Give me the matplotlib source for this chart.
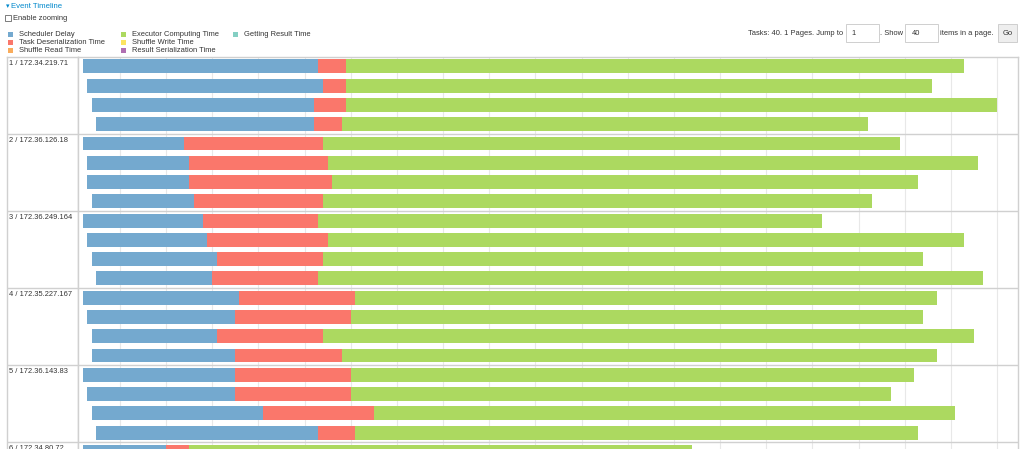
#! usr/bin/env python

'''Event timeline of Spark tasks, one lane group per executor host'''

import matplotlib
matplotlib.use("Agg")
import matplotlib.pyplot as plt
from matplotlib.patches import Rectangle

plt.rcParams['font.family'] = ['Liberation Sans', 'DejaVu Sans']

# executor hosts (one group of lanes each)
hosts = ["1 / 172.34.219.71", "2 / 172.36.126.18", "3 / 172.36.249.164",
         "4 / 172.35.227.167", "5 / 172.36.143.83", "6 / 172.34.80.72"]
# which host each task ran on and its lane inside the group
task_host = [0, 0, 0, 0, 1, 1, 1, 1, 2, 2, 2, 2, 3, 3, 3, 3, 4, 4, 4, 4, 5]
task_lane = [0, 1, 2, 3, 0, 1, 2, 3, 0, 1, 2, 3, 0, 1, 2, 3, 0, 1, 2, 3, 0]
# times in ms
launch_ms = [19, 29, 39, 49, 19, 29, 29, 39, 19, 29, 39, 49, 19, 29, 39, 39, 19, 29, 39, 49, 19]
sched_delay_ms = [511, 510, 481, 471, 220, 221, 221, 221, 260, 260, 271, 250,
                  339, 320, 271, 310, 330, 320, 371, 481, 180]
deser_ms = [60, 51, 70, 60, 301, 300, 309, 280, 251, 261, 230, 231,
            252, 251, 230, 231, 251, 251, 240, 80, 51]
compute_ms = [1339, 1270, 1409, 1140, 1249, 1409, 1270, 1190, 1090, 1379, 1299, 1439,
              1259, 1239, 1409, 1289, 1220, 1170, 1260, 1219, 1089]

legend_items = [("Scheduler Delay", "#74a9cf"), ("Task Deserialization Time", "#fa776b"),
                ("Shuffle Read Time", "#f9ac5c"), ("Executor Computing Time", "#acd960"),
                ("Shuffle Write Time", "#fbe460"), ("Result Serialization Time", "#b06fb2"),
                ("Getting Result Time", "#84cfc3")]

W, H = 1024, 449
fig = plt.figure(figsize=(W / 100, H / 100), dpi=100)

def px_axes(x0, y0, x1, y1):
    return fig.add_axes([x0 / W, 1 - y1 / H, (x1 - x0) / W, (y1 - y0) / H])

FS = 5.4
TXT = "#333333"
LINE = "#d0d0d0"

#overlay in pixel coordinates for the page furniture
ov = px_axes(0, 0, W, H)
ov.set_xlim(0, W)
ov.set_ylim(H, 0)
ov.axis("off")

ov.text(6, 6.5, "▾", color="#0088cc", fontsize=5, va="center", ha="left")
ov.text(11, 6.5, "Event Timeline", color="#0088cc", fontsize=5.6, va="center", ha="left")
ov.add_patch(Rectangle((5.2, 15.2), 5.4, 5.4, facecolor="white", edgecolor="#666666", lw=0.6))
ov.text(12.7, 18, "Enable zooming", color=TXT, fontsize=FS, va="center", ha="left")

legend_pos = [(8.3, 34.3), (8.3, 42.7), (8.3, 50.7), (121, 34.3), (121, 42.7), (121, 50.7), (233.3, 34.3)]
for (label, col), (lx, ly) in zip(legend_items, legend_pos):
    ov.add_patch(Rectangle((lx, ly - 2.5), 5, 5, facecolor=col, edgecolor="none"))
    ov.text(lx + 11, ly, label, color=TXT, fontsize=FS, va="center", ha="left")

#paging controls
ov.text(842.7, 33.3, "Tasks: 40. 1 Pages. Jump to", color=TXT, fontsize=FS, va="center", ha="right")
ov.add_patch(Rectangle((845.7, 24.3), 33.6, 17.4, facecolor="white", edgecolor="#c8c8c8", lw=0.6))
ov.text(851, 33.3, "1", color=TXT, fontsize=FS, va="center", ha="left")
ov.text(880, 33.3, ". Show", color=TXT, fontsize=FS, va="center", ha="left")
ov.add_patch(Rectangle((905, 24.3), 33.3, 17.4, facecolor="white", edgecolor="#c8c8c8", lw=0.6))
ov.text(911.7, 33.3, "40", color=TXT, fontsize=FS, va="center", ha="left")
ov.text(940, 33.3, "items in a page.", color=TXT, fontsize=FS, va="center", ha="left")
ov.add_patch(Rectangle((997.7, 24.3), 19, 17.4, facecolor="#eeeeee", edgecolor="#c8c8c8", lw=0.6))
ov.text(1007.2, 33.3, "Go", color=TXT, fontsize=FS, va="center", ha="center")

#host label column
TOP = 56.7
SLOT = 19.28
n_slots = (H - TOP) / SLOT
lab = px_axes(6.7, TOP, 78, H)
lab.set_xlim(0, 1)
lab.set_ylim(n_slots, 0)
lab.set_xticks([])
lab.set_yticks([])
for i, h in enumerate(hosts):
    lab.text(0.03, 4 * i + 0.33, h, color=TXT, fontsize=FS, va="center", ha="left", clip_on=False)
    if i > 0:
        lab.axhline(4 * i, color=LINE, lw=1)

#timeline
ax = px_axes(78, TOP, 1018, H)
ax.set_xlim(9, 2045.4)
ax.set_ylim(n_slots, 0)
ax.set_xticks(range(100, 2001, 100))
ax.set_yticks([])
ax.tick_params(axis="x", length=0, labelbottom=False)
ax.grid(axis="x", color="#e8e8e8", lw=0.8)
ax.set_axisbelow(True)
for i in range(1, len(hosts)):
    ax.axhline(4 * i, color=LINE, lw=1, zorder=1)

y = [4 * g + l + 0.5 for g, l in zip(task_host, task_lane)]
sched_end = [a + b for a, b in zip(launch_ms, sched_delay_ms)]
deser_end = [a + b for a, b in zip(sched_end, deser_ms)]
ax.barh(y, sched_delay_ms, left=launch_ms, height=0.72, color=legend_items[0][1], zorder=3)
ax.barh(y, deser_ms, left=sched_end, height=0.72, color=legend_items[1][1], zorder=3)
ax.barh(y, compute_ms, left=deser_end, height=0.72, color=legend_items[3][1], zorder=3)

for a in (lab, ax):
    for s in a.spines.values():
        s.set_color(LINE)
        s.set_linewidth(1)
    a.spines["bottom"].set_visible(False)

fig.savefig("out.png", dpi=100)
